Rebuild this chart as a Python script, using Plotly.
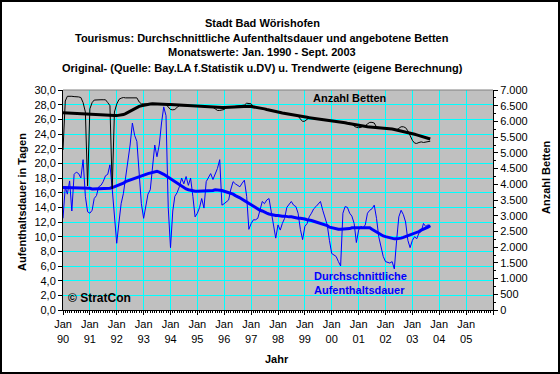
import pandas as pd
import plotly.graph_objects as go

# ---------------- data (monthly, Jan 1990 - Sep 2003) ----------------
start_month = "1990-01-01"
n_months = 165

stay_original = [
    12.5, 16.8, 15.8, 17.6, 13.5, 18.5, 18.8, 18.6, 18.0, 20.5, 15.5, 13.4,   # 1990
    13.2, 13.6, 15.2, 15.6, 16.8, 17.0, 17.5, 18.3, 18.5, 19.8, 16.5, 12.5,   # 1991
    9.1, 12.0, 14.5, 15.9, 18.2, 20.0, 22.5, 25.5, 23.8, 23.0, 18.0, 14.5,    # 1992
    12.5, 14.1, 15.8, 16.4, 19.5, 22.5, 20.9, 22.5, 25.5, 27.7, 26.5, 14.0,   # 1993
    8.5, 13.5, 15.5, 16.0, 16.8, 18.0, 17.2, 18.2, 17.0, 18.0, 15.5, 12.7,    # 1994
    13.2, 14.0, 15.2, 13.9, 17.5, 18.0, 18.6, 17.8, 18.6, 19.3, 20.5, 14.3,   # 1995
    14.5, 14.8, 15.0, 16.5, 17.5, 17.2, 17.0, 16.8, 17.3, 17.7, 15.5, 11.0,   # 1996
    11.8, 12.3, 12.3, 12.5, 13.6, 14.8, 14.5, 15.0, 15.2, 13.6, 11.5, 9.8,    # 1997
    11.6, 10.9, 11.8, 12.5, 14.0, 14.5, 14.8, 14.3, 14.1, 13.2, 11.0, 9.6,    # 1998
    11.4, 11.8, 12.7, 13.2, 13.8, 14.1, 14.4, 14.8, 13.6, 12.7, 11.6, 9.5,    # 1999
    7.7, 7.5, 7.3, 6.6, 6.0, 13.2, 14.1, 14.0, 13.2, 12.8, 11.8, 9.2,         # 2000
    10.9, 11.4, 11.2, 11.6, 13.2, 13.6, 13.8, 14.3, 12.5, 10.0, 8.6, 7.3,     # 2001
    6.6, 6.5, 6.4, 6.6, 5.6, 9.5, 12.7, 13.6, 13.0, 12.0, 9.5, 8.5,           # 2002
    9.5, 10.0, 9.7, 10.5, 10.7, 11.8, 11.4, 11.6, 11.5,                        # 2003
]

stay_trend = [
    16.7, 16.7, 16.7, 16.7, 16.7, 16.7, 16.7, 16.6, 16.6, 16.6, 16.6, 16.6,
    16.6, 16.5, 16.5, 16.5, 16.5, 16.5, 16.5, 16.5, 16.6, 16.6, 16.7, 16.8,
    16.9, 17.0, 17.2, 17.3, 17.5, 17.6, 17.7, 17.8, 18.0, 18.1, 18.2, 18.3,
    18.4, 18.5, 18.6, 18.7, 18.8, 18.9, 18.9, 18.8, 18.7, 18.5, 18.3, 18.1,
    17.8, 17.6, 17.4, 17.2, 17.0, 16.8, 16.6, 16.5, 16.4, 16.3, 16.3, 16.2,
    16.2, 16.2, 16.2, 16.2, 16.2, 16.3, 16.3, 16.3, 16.4, 16.4, 16.3, 16.3,
    16.2, 16.1, 16.0, 15.9, 15.8, 15.6, 15.5, 15.3, 15.1, 14.9, 14.7, 14.5,
    14.3, 14.2, 14.0, 13.8, 13.6, 13.5, 13.3, 13.2, 13.1, 13.0, 13.0, 12.9,
    12.9, 12.8, 12.8, 12.8, 12.7, 12.7, 12.7, 12.6, 12.6, 12.5, 12.5, 12.4,
    12.4, 12.3, 12.3, 12.2, 12.1, 12.0, 11.9, 11.8, 11.7, 11.6, 11.5, 11.3,
    11.2, 11.1, 11.1, 11.0, 11.0, 11.0, 11.0, 11.1, 11.1, 11.2, 11.2, 11.3,
    11.3, 11.3, 11.3, 11.3, 11.2, 11.2, 11.0, 10.8, 10.6, 10.4, 10.2, 10.1,
    10.0, 9.9, 9.8, 9.7, 9.7, 9.7, 9.8, 9.8, 9.9, 10.0, 10.1, 10.3,
    10.4, 10.5, 10.6, 10.7, 10.9, 11.0, 11.2, 11.3, 11.5,
]

beds_original = [
    5090, 6650, 6800, 6810, 6800, 6790, 6790, 6780, 6760, 6600, 6300, 3950,
    6400, 6600, 6680, 6690, 6690, 6690, 6690, 6690, 6600, 6500, 3850, 6300,
    6550, 6700, 6740, 6760, 6750, 6750, 6750, 6750, 6750, 6750, 6620, 6560,
    6560, 6560, 6560, 6555, 6560, 6560, 6560, 6555, 6555, 6550, 6540, 6460,
    6380, 6370, 6380, 6450, 6500, 6500, 6500, 6495, 6490, 6490, 6490, 6485,
    6485, 6480, 6475, 6470, 6465, 6460, 6455, 6450, 6400, 6350, 6350, 6360,
    6380, 6440, 6450, 6460, 6460, 6470, 6480, 6480, 6490, 6520, 6580, 6580,
    6560, 6470, 6455, 6445, 6435, 6420, 6400, 6380, 6360, 6345, 6330, 6315,
    6300, 6285, 6270, 6255, 6240, 6225, 6210, 6195, 6180, 6170, 6080, 6000,
    6010, 6080, 6120, 6110, 6100, 6090, 6080, 6070, 6060, 6055, 6050, 6045,
    6040, 6030, 6020, 6005, 5990, 5975, 5960, 5945, 5930, 5915, 5850, 5810,
    5800, 5810, 5850, 5860, 5920, 5970, 5970, 5950, 5820, 5805, 5800, 5795,
    5790, 5780, 5770, 5760, 5745, 5730, 5780, 5830, 5830, 5800, 5700, 5550,
    5400, 5310, 5300, 5330, 5350, 5330, 5340, 5350, 5370,
]

beds_trend = [
    6280, 6275, 6270, 6265, 6260, 6255, 6250, 6245, 6240, 6240, 6235, 6235,
    6230, 6230, 6225, 6220, 6215, 6210, 6205, 6200, 6195, 6190, 6185, 6185,
    6185, 6190, 6200, 6220, 6250, 6290, 6330, 6370, 6410, 6450, 6480, 6500,
    6520, 6535, 6550, 6555, 6560, 6560, 6560, 6555, 6555, 6550, 6545, 6540,
    6535, 6530, 6525, 6520, 6515, 6510, 6505, 6500, 6500, 6495, 6490, 6490,
    6485, 6480, 6475, 6470, 6465, 6460, 6455, 6450, 6445, 6440, 6440, 6440,
    6440, 6445, 6450, 6455, 6460, 6465, 6470, 6475, 6480, 6485, 6485, 6480,
    6475, 6465, 6455, 6445, 6435, 6420, 6400, 6380, 6360, 6345, 6330, 6315,
    6300, 6285, 6270, 6255, 6240, 6225, 6210, 6195, 6180, 6170, 6160, 6150,
    6140, 6130, 6120, 6110, 6100, 6090, 6080, 6070, 6060, 6055, 6050, 6045,
    6040, 6030, 6020, 6005, 5990, 5975, 5960, 5945, 5930, 5915, 5900, 5880,
    5865, 5855, 5845, 5835, 5830, 5825, 5820, 5815, 5810, 5805, 5800, 5795,
    5790, 5780, 5770, 5760, 5745, 5730, 5715, 5700, 5685, 5670, 5650, 5630,
    5610, 5590, 5570, 5550, 5530, 5510, 5490, 5465, 5440,
]

year_ticks = list(range(1990, 2007))
year_labels = ["Jan<br>%02d" % (y % 100) for y in range(1990, 2006)] + [""]

title_lines = [
    "Stadt Bad Wörishofen",
    "Tourismus: Durchschnittliche Aufenthaltsdauer und angebotene Betten",
    "Monatswerte: Jan. 1990 - Sept. 2003",
    "Original- (Quelle: Bay.LA f.Statistik u.DV) u. Trendwerte (eigene Berechnung)",
]

# ---------------- figure ----------------
dates = pd.date_range(start_month, periods=n_months, freq="MS")
tickvals = [pd.Timestamp(f"{y}-01-01") for y in year_ticks]

W, H = 560, 374
L, R, T, B = 63, 67, 90, 64
pw, ph = W - L - R, H - T - B
FONT = "Liberation Sans, Arial, sans-serif"

def px_x(x):
    return (x - L) / pw

def px_y(y):
    return (H - B - y) / ph

fig = go.Figure()
fig.add_trace(go.Scatter(x=dates, y=beds_original, yaxis="y2", mode="lines",
                         line=dict(color="black", width=1), hoverinfo="skip"))
fig.add_trace(go.Scatter(x=dates, y=beds_trend, yaxis="y2", mode="lines",
                         line=dict(color="black", width=3), hoverinfo="skip"))
fig.add_trace(go.Scatter(x=dates, y=stay_original, mode="lines",
                         line=dict(color="#0000FF", width=1), hoverinfo="skip"))
fig.add_trace(go.Scatter(x=dates, y=stay_trend, mode="lines",
                         line=dict(color="#0000FF", width=3), hoverinfo="skip"))

fig.update_layout(
    width=W, height=H,
    margin=dict(l=L, r=R, t=T, b=B, pad=0),
    paper_bgcolor="white",
    plot_bgcolor="#C0C0C0",
    showlegend=False,
    separators=",.",
    font=dict(family=FONT, size=11, color="black"),
    xaxis=dict(
        type="date",
        range=[pd.Timestamp("1990-01-01"), pd.Timestamp("2006-01-01")],
        tickmode="array", tickvals=tickvals, ticktext=year_labels,
        showgrid=True, gridcolor="#00FFFF", gridwidth=1,
        showline=True, linecolor="black", linewidth=1,
        ticks="outside", ticklen=4, tickcolor="black",
        minor=dict(dtick="M1", ticks="outside", ticklen=2, tickcolor="black", showgrid=False),
        tickfont=dict(size=11, family=FONT),
        zeroline=False, fixedrange=True,
    ),
    yaxis=dict(
        range=[0, 30], dtick=2, tickformat=".1f",
        showgrid=True, gridcolor="#00FFFF", gridwidth=1,
        showline=True, linecolor="black", linewidth=1,
        ticks="outside", ticklen=4, tickcolor="black",
        tickfont=dict(size=11, family=FONT),
        zeroline=False, fixedrange=True,
    ),
    yaxis2=dict(
        range=[0, 7000], dtick=500, tickformat=",d",
        overlaying="y", side="right", showgrid=False,
        showline=True, linecolor="black", linewidth=1,
        ticks="outside", ticklen=4, tickcolor="black",
        minor=dict(dtick=250, ticks="outside", ticklen=2, tickcolor="black"),
        tickfont=dict(size=11, family=FONT),
        zeroline=False, fixedrange=True,
    ),
)

annotations = []
for txt, ypx in zip(title_lines, [22.7, 37.7, 52.3, 67.7]):
    annotations.append(dict(text="<b>%s</b>" % txt, x=px_x(262), y=px_y(ypx),
                            xref="paper", yref="paper", showarrow=False,
                            xanchor="center", yanchor="middle",
                            font=dict(size=11, family=FONT, color="black")))
annotations += [
    dict(text="<b>Aufenthaltsdauer in Tagen</b>", x=px_x(22), y=px_y(202),
         textangle=-90, xref="paper", yref="paper", showarrow=False,
         xanchor="center", yanchor="middle", font=dict(size=11, family=FONT)),
    dict(text="<b>Anzahl Betten</b>", x=px_x(546), y=px_y(177),
         textangle=-90, xref="paper", yref="paper", showarrow=False,
         xanchor="center", yanchor="middle", font=dict(size=11, family=FONT)),
    dict(text="<b>Jahr</b>", x=px_x(277), y=px_y(359), xref="paper", yref="paper",
         showarrow=False, xanchor="center", yanchor="middle", font=dict(size=11, family=FONT)),
    dict(text="<b>Anzahl Betten</b>", x=px_x(350), y=px_y(98), xref="paper", yref="paper",
         showarrow=False, xanchor="center", yanchor="middle",
         font=dict(size=11, family=FONT, color="black")),
    dict(text="<b>Durchschnittliche</b>", x=px_x(312), y=px_y(276), xref="paper", yref="paper",
         showarrow=False, xanchor="left", yanchor="middle",
         font=dict(size=11, family=FONT, color="#0000FF")),
    dict(text="<b>Aufenthaltsdauer</b>", x=px_x(312), y=px_y(290), xref="paper", yref="paper",
         showarrow=False, xanchor="left", yanchor="middle",
         font=dict(size=11, family=FONT, color="#0000FF")),
    dict(text="<b>© StratCon</b>", x=px_x(66), y=px_y(298), xref="paper", yref="paper",
         showarrow=False, xanchor="left", yanchor="middle",
         font=dict(size=12, family=FONT, color="black")),
]
fig.update_layout(annotations=annotations)

fig.add_shape(type="line", xref="paper", yref="paper", x0=0, x1=1, y0=1, y1=1,
              line=dict(color="#808080", width=1), layer="above")
fig.add_shape(type="rect", xref="paper", yref="paper",
              x0=px_x(1), x1=px_x(W - 1), y0=px_y(H - 1), y1=px_y(1),
              line=dict(color="black", width=2), layer="above")

fig.write_html("out.html", config={"displayModeBar": False},
               post_script="document.body.style.margin='0';document.body.style.overflow='hidden';")
